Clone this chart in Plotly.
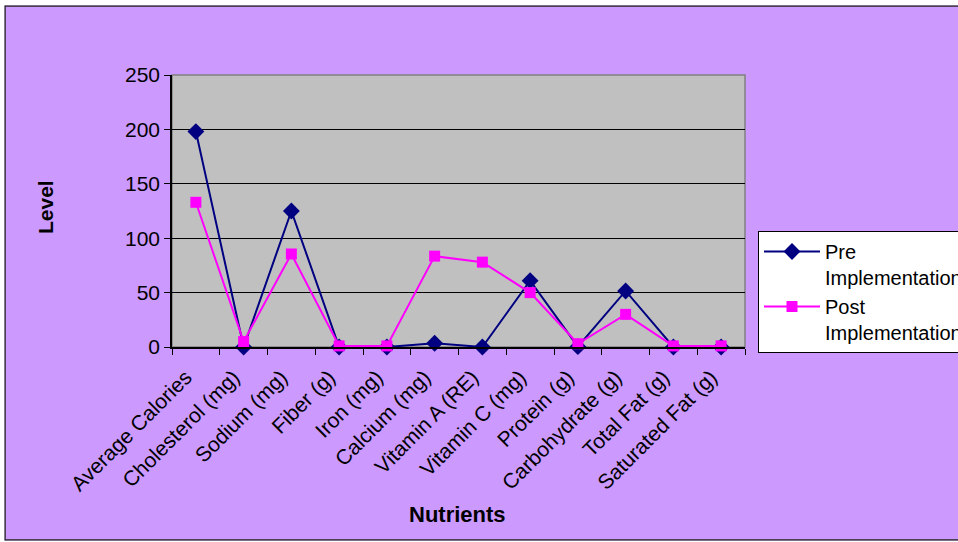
import plotly.graph_objects as go

# Nutrient intake, before and after the programme
nutrients = [
    "Average Calories", "Cholesterol (mg)", "Sodium (mg)", "Fiber (g)",
    "Iron (mg)", "Calcium (mg)", "Vitamin A (RE)", "Vitamin C (mg)",
    "Protein (g)", "Carbohydrate (g)", "Total Fat (g)", "Saturated Fat (g)",
]
pre_values = [198, 0, 125, 0, 0, 3.5, 0, 61, 0.3, 51.5, 0, 0]
post_values = [133, 5, 85.5, 1, 1, 83.5, 78, 50, 3, 30, 1, 1]
y_ticks = [0, 50, 100, 150, 200, 250]

W, H = 958, 542
L, R, T, B = 172, 213, 75, 195
PW, PH = W - L - R, H - T - B


def px_x(x):
    return (x - L) / PW


def px_y(y):
    return (H - B - y) / PH


FONT = "Liberation Sans, Arial, sans-serif"
NAVY = "#000080"
MAGENTA = "#FF00FF"

fig = go.Figure()
fig.add_trace(go.Scatter(
    x=nutrients, y=pre_values, name="Pre<br>Implementation",
    mode="lines+markers", cliponaxis=False,
    line=dict(color=NAVY, width=2),
    marker=dict(symbol="diamond", size=13, color=NAVY),
))
fig.add_trace(go.Scatter(
    x=nutrients, y=post_values, name="Post<br>Implementation",
    mode="lines+markers", cliponaxis=False,
    line=dict(color=MAGENTA, width=2),
    marker=dict(symbol="square", size=11, color=MAGENTA),
))

shapes = [
    # plot-area frame (top/right edges visible in grey)
    dict(type="rect", xref="paper", yref="paper", x0=0, x1=1, y0=0, y1=1,
         line=dict(color="#808080", width=1.5), layer="below"),
    # chart-area border
    dict(type="rect", xref="paper", yref="paper",
         x0=px_x(5), x1=px_x(1000), y0=px_y(540), y1=px_y(6),
         line=dict(color="#222222", width=1.5), layer="above"),
    # white surround outside the chart area
    dict(type="rect", xref="paper", yref="paper",
         x0=px_x(-5), x1=px_x(4.3), y0=px_y(560), y1=px_y(-10),
         fillcolor="white", line=dict(width=0), layer="above"),
    dict(type="rect", xref="paper", yref="paper",
         x0=px_x(-5), x1=px_x(1000), y0=px_y(5.3), y1=px_y(-10),
         fillcolor="white", line=dict(width=0), layer="above"),
    dict(type="rect", xref="paper", yref="paper",
         x0=px_x(-5), x1=px_x(1000), y0=px_y(560), y1=px_y(540.7),
         fillcolor="white", line=dict(width=0), layer="above"),
]

annotations = [
    dict(text="<b>Nutrients</b>", xref="paper", yref="paper",
         x=px_x(457), y=px_y(514), showarrow=False,
         font=dict(family=FONT, size=22, color="black"),
         xanchor="center", yanchor="middle"),
    dict(text="<b>Level</b>", xref="paper", yref="paper",
         x=px_x(45), y=px_y(207), showarrow=False, textangle=-90,
         font=dict(family=FONT, size=21, color="black"),
         xanchor="center", yanchor="middle"),
]

fig.update_layout(
    width=W, height=H,
    margin=dict(l=L, r=R, t=T, b=B, pad=0),
    paper_bgcolor="#CC99FF",
    plot_bgcolor="#C0C0C0",
    font=dict(family=FONT, size=21, color="black"),
    showlegend=True,
    legend=dict(
        xref="container", yref="container",
        x=758 / W, y=1 - 231 / H, xanchor="left", yanchor="top",
        bgcolor="white", bordercolor="black", borderwidth=1,
        font=dict(family=FONT, size=20, color="black"),
        valign="top", tracegroupgap=0, itemwidth=56,
    ),
    xaxis=dict(
        type="category", range=[-0.5, len(nutrients) - 0.5],
        tickangle=-45, tickson="boundaries",
        ticks="outside", ticklen=6, tickcolor="black", tickwidth=1,
        ticklabelstandoff=8, ticklabelshift=-10,
        showline=True, linecolor="black", linewidth=1.5,
        showgrid=False, automargin=False,
        tickfont=dict(family=FONT, size=21, color="black"),
    ),
    yaxis=dict(
        range=[0, 250], tickvals=y_ticks,
        ticks="outside", ticklen=6, tickcolor="black", tickwidth=1,
        showline=True, linecolor="black", linewidth=1.5,
        showgrid=True, gridcolor="black", gridwidth=1,
        zeroline=False, automargin=False,
        tickfont=dict(family=FONT, size=21, color="black"),
    ),
    shapes=shapes,
    annotations=annotations,
)

fig.write_html("out.html")
